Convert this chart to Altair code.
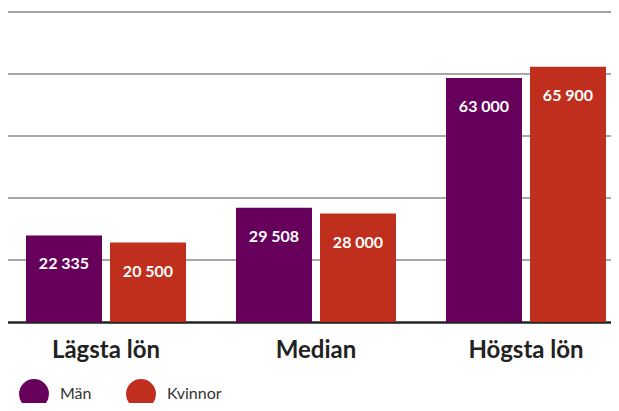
import altair as alt
import pandas as pd

categories = ["Lägsta lön", "Median", "Högsta lön"]
genders = ["Män", "Kvinnor"]
man_values = [22335, 29508, 63000]
woman_values = [20500, 28000, 65900]
grid_values = [16000, 32000, 48000, 64000, 80000]
colors = ["#66005a", "#c02e1d"]

rows = []
for c, m, w in zip(categories, man_values, woman_values):
    rows.append({"kategori": c, "kön": "Män", "lön": m})
    rows.append({"kategori": c, "kön": "Kvinnor", "lön": w})
df = pd.DataFrame(rows)
df["etikett"] = df["lön"].map(lambda v: f"{v:,}".replace(",", " "))
grid_df = pd.DataFrame({"lön": grid_values})

FONT = "Lato"
yscale = alt.Scale(domain=[0, 80000], nice=False)

x = alt.X(
    "kategori:N",
    sort=categories,
    title=None,
    scale=alt.Scale(range=[-5, 625], paddingInner=0, paddingOuter=0),
    axis=alt.Axis(
        labelAngle=0,
        ticks=False,
        domain=True,
        domainColor="#222222",
        domainWidth=2.5,
        labelFont=FONT,
        labelFontWeight="bold",
        labelFontSize=24,
        labelColor="#222222",
        labelPadding=16,
        grid=False,
    ),
)
xoff = alt.XOffset(
    "kön:N",
    sort=genders,
    scale=alt.Scale(paddingInner=0.0952, paddingOuter=0.2976),
)
y = alt.Y("lön:Q", title=None, scale=yscale, axis=None)
color = alt.Color(
    "kön:N",
    sort=genders,
    scale=alt.Scale(domain=genders, range=colors),
    legend=alt.Legend(
        title=None,
        orient="none",
        direction="horizontal",
        legendX=13,
        legendY=367,
        symbolType="circle",
        symbolSize=900,
        symbolStrokeWidth=0,
        symbolOpacity=1,
        labelFont=FONT,
        labelFontSize=16,
        labelColor="#333333",
        labelOffset=11,
        columnPadding=34,
    ),
)

grid = alt.Chart(grid_df).mark_rule(color="#8a8a8a", strokeWidth=1.5).encode(
    y=alt.Y("lön:Q", scale=yscale, axis=None)
)
bars = alt.Chart(df).mark_bar().encode(x=x, xOffset=xoff, y=y, color=color)
text = alt.Chart(df).mark_text(
    color="white", font=FONT, fontWeight="bold", fontSize=16, dy=29, baseline="middle"
).encode(x=x, xOffset=xoff, y=y, text="etikett:N")

chart = (
    alt.layer(grid, bars, text)
    .properties(
        width=605,
        height=310,
        autosize=alt.AutoSizeParams(type="none"),
        padding={"left": -2, "top": 4, "right": 0, "bottom": 81},
    )
    .configure_view(strokeWidth=0, stroke="transparent")
    .configure(background="white")
)

chart.save("out.html", embed_options={"renderer": "svg", "actions": False})
